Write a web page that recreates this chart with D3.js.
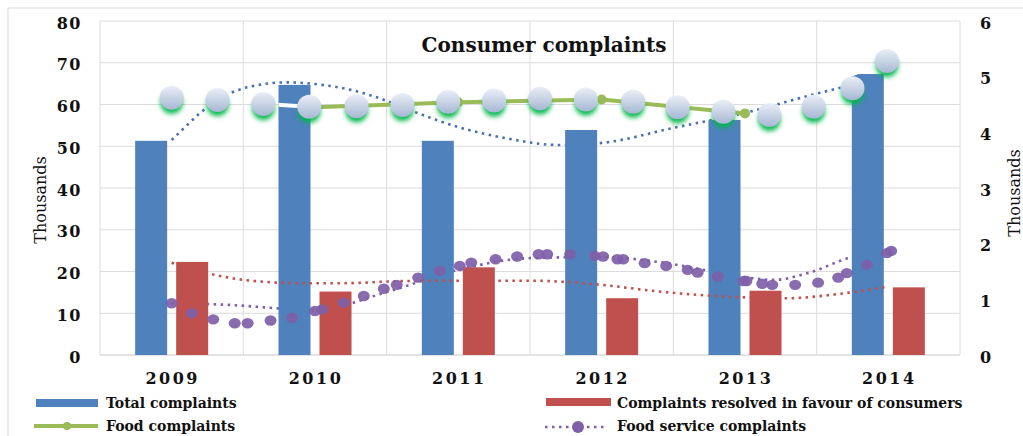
<!DOCTYPE html>
<html>
<head>
<meta charset="utf-8">
<script src="https://cdn.jsdelivr.net/npm/d3@7"></script>
<style>
  body { margin: 0; background: #fff; }
  text { font-family: "DejaVu Serif", serif; }
</style>
</head>
<body>
<svg id="chart" width="1023" height="436"></svg>
<script>
// data (left axis: thousands, right axis: thousands)
const years = [2009, 2010, 2011, 2012, 2013, 2014];
const totalComplaints = [51.3, 64.7, 51.3, 53.9, 56.3, 67.3];
const resolvedComplaints = [22.3, 15.2, 21.0, 13.6, 15.4, 16.2];
const foodComplaints = [4.63, 4.45, 4.54, 4.59, 4.34, 5.28];   // right axis
const foodShownFrom = 2010, foodShownTo = 2013;                // part still drawn in green

// glossy markers (position as fractional year, value on right axis)
const foodGloss = [
  [2009.00, 4.62], [2009.32, 4.58], [2009.64, 4.51], [2009.96, 4.46], [2010.29, 4.47],
  [2010.61, 4.49], [2010.93, 4.55], [2011.25, 4.57], [2011.57, 4.61], [2011.89, 4.59],
  [2012.22, 4.55], [2012.53, 4.45], [2012.85, 4.37], [2013.17, 4.31], [2013.48, 4.46],
  [2013.75, 4.79], [2013.99, 5.28]
];

// food service complaints points (right axis)
const foodService = [
  [2009.00, 0.93], [2009.14, 0.75], [2009.29, 0.64], [2009.44, 0.57], [2009.53, 0.57],
  [2009.69, 0.62], [2009.84, 0.67], [2010.00, 0.79], [2010.05, 0.82], [2010.20, 0.94],
  [2010.34, 1.06], [2010.48, 1.19], [2010.57, 1.26], [2010.72, 1.39], [2010.87, 1.51],
  [2011.01, 1.60], [2011.09, 1.66], [2011.26, 1.72], [2011.41, 1.77], [2011.56, 1.81],
  [2011.62, 1.81], [2011.78, 1.81], [2011.95, 1.78], [2012.01, 1.77], [2012.11, 1.72],
  [2012.15, 1.72], [2012.30, 1.65], [2012.45, 1.60], [2012.60, 1.53], [2012.67, 1.48],
  [2012.81, 1.41], [2012.99, 1.33], [2013.01, 1.33], [2013.12, 1.28], [2013.19, 1.26],
  [2013.35, 1.26], [2013.51, 1.30], [2013.65, 1.39], [2013.71, 1.47], [2013.85, 1.62],
  [2013.99, 1.83], [2014.02, 1.87]
];

// dotted trend lines
const totalTrend = [
  [2009.00, 51.5], [2009.10, 54.8], [2009.20, 58.0], [2009.35, 61.7], [2009.55, 64.3],
  [2009.80, 65.3], [2010.05, 64.7], [2010.25, 63.5], [2010.45, 61.5], [2010.65, 58.8],
  [2011.00, 54.6], [2011.35, 51.8], [2011.70, 50.3], [2012.00, 50.8], [2012.50, 54.4],
  [2013.00, 58.0], [2013.50, 62.6], [2013.75, 64.7]
];
const resolvedTrend = [
  [2009.00, 22.1], [2009.25, 19.6], [2009.50, 18.0], [2009.90, 17.2], [2010.20, 17.2],
  [2010.60, 17.7], [2011.00, 17.8], [2011.50, 17.8], [2012.00, 16.8], [2012.40, 15.2],
  [2013.00, 13.8], [2013.30, 13.6], [2013.60, 14.4], [2014.00, 16.4]
];
const serviceTrend = [
  [2009.00, 0.93], [2009.40, 0.90], [2009.80, 0.83], [2010.00, 0.81], [2010.50, 1.13],
  [2011.00, 1.53], [2011.50, 1.74], [2012.00, 1.76], [2012.40, 1.67], [2012.80, 1.49],
  [2013.20, 1.35], [2013.45, 1.48], [2013.75, 1.76], [2014.00, 1.83]
];

const leftTicks = [0, 10, 20, 30, 40, 50, 60, 70, 80];
const rightTicks = [0, 1, 2, 3, 4, 5, 6];

const blue = "#4f81bd", red = "#c0504d", green = "#9bbb59", purple = "#7e5fa8";

const svg = d3.select("#chart");
svg.append("rect").attr("width", 1023).attr("height", 436).attr("fill", "#fff");

// outer frame
svg.append("path").attr("d", "M8,436V8H1023")
  .attr("fill", "none").attr("stroke", "#d9d9d9");

const x = d3.scaleBand().domain(years).range([100, 960]);
const xSub = d3.scaleBand().domain(["total", "resolved"])
  .range([0, x.bandwidth()]).paddingInner(0.22).paddingOuter(0.857);
const xc = d3.scaleLinear().domain([2009, 2014])
  .range([x(2009) + x.bandwidth() / 2, x(2014) + x.bandwidth() / 2]);
const yL = d3.scaleLinear().domain([0, 80]).range([355, 21]);
const yR = d3.scaleLinear().domain([0, 6]).range([355, 21]);

const defs = svg.append("defs");
const grad = defs.append("linearGradient").attr("id", "gloss")
  .attr("x1", 0).attr("y1", 0).attr("x2", 0).attr("y2", 1);
grad.append("stop").attr("offset", "0%").attr("stop-color", "#eaeff7");
grad.append("stop").attr("offset", "100%").attr("stop-color", "#a6b7d3");
defs.append("filter").attr("id", "glow")
  .attr("x", "-60%").attr("y", "-60%").attr("width", "220%").attr("height", "220%")
  .append("feGaussianBlur").attr("stdDeviation", 2.6);
defs.append("clipPath").attr("id", "barclip")
  .selectAll("rect").data(years).join("rect")
  .attr("x", d => x(d) + xSub("total"))
  .attr("width", xSub.bandwidth())
  .attr("y", (d, i) => yL(totalComplaints[i]))
  .attr("height", (d, i) => yL(0) - yL(totalComplaints[i]));

// grid
svg.append("g").selectAll("line").data(leftTicks).join("line")
  .attr("x1", 100).attr("x2", 960)
  .attr("y1", d => yL(d)).attr("y2", d => yL(d))
  .attr("stroke", d => d === 0 ? "#c8c8c8" : "#dcdcdc");
svg.append("g").selectAll("line").data(years.concat([null])).join("line")
  .attr("x1", d => d === null ? 960 : x(d)).attr("x2", d => d === null ? 960 : x(d))
  .attr("y1", yL(80)).attr("y2", yL(0))
  .attr("stroke", "#dcdcdc");

// axes labels
const axL = svg.append("g").attr("transform", "translate(100,0)")
  .call(d3.axisLeft(yL).tickValues(leftTicks).tickSize(0).tickPadding(18));
const axR = svg.append("g").attr("transform", "translate(960,0)")
  .call(d3.axisRight(yR).tickValues(rightTicks).tickFormat(d3.format("d"))
    .tickSize(0).tickPadding(20));
const axB = svg.append("g").attr("transform", "translate(0,355)")
  .call(d3.axisBottom(x).tickSize(0).tickPadding(18));
[axL, axR, axB].forEach(g => {
  g.select(".domain").remove();
  g.selectAll("text").attr("font-family", "DejaVu Serif").attr("font-weight", "bold")
    .attr("font-size", 16).attr("fill", "#111").attr("letter-spacing", 1.5);
});
axL.selectAll("text").attr("dy", "0.45em");
axR.selectAll("text").attr("dy", "0.45em");
axB.selectAll("text").attr("letter-spacing", 2.5).attr("dx", 1);

svg.append("text").attr("transform", "translate(46,200) rotate(-90)")
  .attr("text-anchor", "middle").attr("font-size", 16).attr("fill", "#111")
  .text("Thousands");
svg.append("text").attr("transform", "translate(1020,193) rotate(-90)")
  .attr("text-anchor", "middle").attr("font-size", 16).attr("fill", "#111")
  .text("Thousands");

const line = (sx, sy) => d3.line().x(d => xc(d[0])).y(d => sy(d[1])).curve(d3.curveMonotoneX);

// trend lines behind the bars
svg.append("path").datum(totalTrend).attr("d", line(xc, yL))
  .attr("fill", "none").attr("stroke", "#4a6fae").attr("stroke-width", 2.6)
  .attr("stroke-dasharray", "2.5,4.5");
svg.append("path").datum(serviceTrend).attr("d", line(xc, yR))
  .attr("fill", "none").attr("stroke", purple).attr("stroke-width", 2.6)
  .attr("stroke-dasharray", "2.5,4.5");

// bars
svg.append("g").selectAll("rect").data(years).join("rect")
  .attr("x", d => x(d) + xSub("total")).attr("width", xSub.bandwidth())
  .attr("y", (d, i) => yL(totalComplaints[i]))
  .attr("height", (d, i) => yL(0) - yL(totalComplaints[i]))
  .attr("fill", blue);
svg.append("g").selectAll("rect").data(years).join("rect")
  .attr("x", d => x(d) + xSub("resolved")).attr("width", xSub.bandwidth())
  .attr("y", (d, i) => yL(resolvedComplaints[i]))
  .attr("height", (d, i) => yL(0) - yL(resolvedComplaints[i]))
  .attr("fill", red);

svg.append("path").datum(resolvedTrend).attr("d", line(xc, yL))
  .attr("fill", "none").attr("stroke", "#c0504d").attr("stroke-width", 2.6)
  .attr("stroke-dasharray", "2.5,4.5");

// food complaints line: erased parts show white over the bars
const foodPts = years.map((y, i) => [y, foodComplaints[i]]);
svg.append("path").datum(foodPts)
  .attr("d", d3.line().x(d => xc(d[0])).y(d => yR(d[1])))
  .attr("fill", "none").attr("stroke", "#fff").attr("stroke-width", 4)
  .attr("clip-path", "url(#barclip)");
const foodShown = foodPts.filter(d => d[0] >= foodShownFrom && d[0] <= foodShownTo);
svg.append("path").datum(foodShown)
  .attr("d", d3.line().x(d => xc(d[0])).y(d => yR(d[1])))
  .attr("fill", "none").attr("stroke", green).attr("stroke-width", 4);
svg.append("g").selectAll("circle").data(foodShown).join("circle")
  .attr("cx", d => xc(d[0])).attr("cy", d => yR(d[1])).attr("r", 5)
  .attr("fill", green);

// glossy markers with green glow
const gl = svg.append("g");
gl.selectAll("circle.glow").data(foodGloss).join("circle").attr("class", "glow")
  .attr("cx", d => xc(d[0])).attr("cy", d => yR(d[1]) + 5).attr("r", 11)
  .attr("fill", "#00b84a").attr("filter", "url(#glow)");
gl.selectAll("circle.ball").data(foodGloss).join("circle").attr("class", "ball")
  .attr("cx", d => xc(d[0])).attr("cy", d => yR(d[1])).attr("r", 12)
  .attr("fill", "url(#gloss)");

// food service markers
svg.append("g").selectAll("ellipse").data(foodService).join("ellipse")
  .attr("cx", d => xc(d[0])).attr("cy", d => yR(d[1]))
  .attr("rx", 6).attr("ry", 5.2)
  .attr("fill", purple).attr("opacity", 0.92);

// title
svg.append("text").attr("x", 544).attr("y", 52).attr("text-anchor", "middle")
  .attr("font-size", 20).attr("font-weight", "bold").attr("fill", "#111")
  .text("Consumer complaints");

// legend
const lg = svg.append("g").attr("font-size", 14).attr("font-weight", "bold").attr("fill", "#111");
lg.append("rect").attr("x", 36).attr("y", 399).attr("width", 62).attr("height", 8).attr("fill", blue);
lg.append("text").attr("x", 106).attr("y", 408).text("Total complaints");
lg.append("line").attr("x1", 34).attr("x2", 98).attr("y1", 426).attr("y2", 426)
  .attr("stroke", green).attr("stroke-width", 4);
lg.append("circle").attr("cx", 67).attr("cy", 426).attr("r", 4).attr("fill", green);
lg.append("text").attr("x", 106).attr("y", 431).text("Food complaints");
lg.append("rect").attr("x", 546).attr("y", 398).attr("width", 65).attr("height", 8).attr("fill", red);
lg.append("text").attr("x", 617).attr("y", 408).text("Complaints resolved in favour of consumers");
lg.append("line").attr("x1", 545).attr("x2", 607).attr("y1", 427).attr("y2", 427)
  .attr("stroke", purple).attr("stroke-width", 2.6).attr("stroke-dasharray", "2.5,4.5");
lg.append("circle").attr("cx", 578).attr("cy", 427).attr("r", 6).attr("fill", purple);
lg.append("text").attr("x", 617).attr("y", 431).text("Food service complaints");
</script>
</body>
</html>
